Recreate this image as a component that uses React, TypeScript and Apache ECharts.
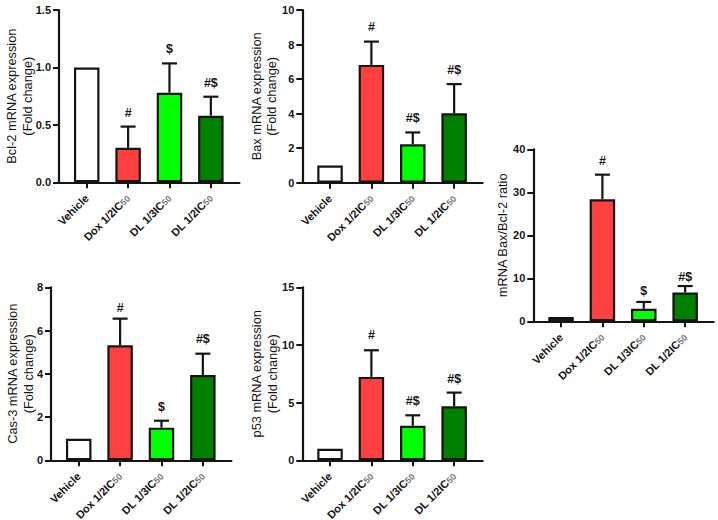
// Fold change bar panels (Bcl-2, Bax, ratio, Cas-3, p53)

import { useEffect, useRef } from 'react';
import * as echarts from 'echarts';

const categories = ['Vehicle', 'Dox 1/2IC{sub|50}', 'DL 1/3IC{sub|50}', 'DL 1/2IC{sub|50}'];
const barColors = ['#ffffff', '#ff4040', '#00ff00', '#008000'];

const bcl2Means = [1, 0.3, 0.78, 0.58];
const bcl2Upper = [1, 0.485, 1.035, 0.745];
const bcl2Marks = ['', '#', '$', '#$'];

const baxMeans = [1, 6.82, 2.22, 4.02];
const baxUpper = [1, 8.17, 2.91, 5.71];
const baxMarks = ['', '#', '#$', '#$'];

const ratioMeans = [1, 28.4, 2.9, 6.7];
const ratioUpper = [1, 34.1, 4.5, 8.2];
const ratioMarks = ['', '#', '$', '#$'];

const cas3Means = [1, 5.32, 1.51, 3.94];
const cas3Upper = [1, 6.55, 1.83, 4.93];
const cas3Marks = ['', '#', '$', '#$'];

const p53Means = [1, 7.23, 3.0, 4.68];
const p53Upper = [1, 9.54, 3.9, 5.87];
const p53Marks = ['', '#', '#$', '#$'];

const INK = '#141414';
const FONT = '"Liberation Sans", Arial, sans-serif';

const panels = [
    { name: 'Bcl-2 mRNA expression\n(Fold change)', nameGap: 24, left: 59, top: 10, height: 172.3, max: 1.5, interval: 0.5, digits: 1, means: bcl2Means, upper: bcl2Upper, marks: bcl2Marks, gaps: [14, 14, 14, 14] },
    { name: 'Bax mRNA expression\n(Fold change)', nameGap: 23, left: 302.3, top: 10, height: 172.7, max: 10, interval: 2, digits: 0, means: baxMeans, upper: baxUpper, marks: baxMarks, gaps: [14, 15, 14, 14] },
    { name: 'mRNA Bax/Bcl-2 ratio', nameGap: 23, left: 533.3, top: 149.3, height: 172, max: 40, interval: 10, digits: 0, means: ratioMeans, upper: ratioUpper, marks: ratioMarks, gaps: [14, 14, 11, 9] },
    { name: 'Cas-3 mRNA expression\n(Fold change)', nameGap: 15, left: 51, top: 287.3, height: 173, max: 8, interval: 2, digits: 0, means: cas3Means, upper: cas3Upper, marks: cas3Marks, gaps: [14, 11, 14, 15] },
    { name: 'p53 mRNA expression\n(Fold change)', nameGap: 22.5, left: 302.3, top: 287.3, height: 173, max: 15, interval: 5, digits: 0, means: p53Means, upper: p53Upper, marks: p53Marks, gaps: [14, 15, 14, 14] },
];

export default function App() {
    const chartRef = useRef<HTMLDivElement>(null);

    useEffect(() => {
        if (!chartRef.current) return;
        document.body.style.margin = '0';

        const chart = echarts.init(chartRef.current, null, { renderer: 'svg' });

        const option: any = {
            animation: false,
            backgroundColor: '#ffffff',
            // outerBoundsMode none: labels near the page edge must not shrink the grids
            grid: panels.map((p) => ({ left: p.left, top: p.top, width: 180.4, height: p.height, outerBoundsMode: 'none' })),
            xAxis: panels.map((_, i) => ({
                type: 'value',
                gridIndex: i,
                min: -0.67,
                max: 3.69,
                splitLine: { show: false },
                axisLine: { lineStyle: { color: INK, width: 2.2 } },
                axisTick: { length: 6, lineStyle: { color: INK, width: 2 }, customValues: [0, 1, 2, 3] },
                axisLabel: {
                    customValues: [0, 1, 2, 3],
                    rotate: 45,
                    margin: 14,
                    fontFamily: FONT,
                    fontSize: 11,
                    fontWeight: 'bold',
                    color: INK,
                    formatter: (v: number) => categories[v],
                    rich: { sub: { fontFamily: FONT, fontSize: 9, color: '#777777', verticalAlign: 'bottom' } },
                },
            })),
            yAxis: panels.map((p, i) => ({
                type: 'value',
                gridIndex: i,
                min: 0,
                max: p.max,
                interval: p.interval,
                name: p.name,
                nameLocation: 'middle',
                nameGap: p.nameGap,
                nameMoveOverlap: false,
                nameTextStyle: { fontFamily: FONT, fontSize: 12.8, color: INK, lineHeight: 15.5 },
                splitLine: { show: false },
                axisLine: { show: true, onZero: false, lineStyle: { color: INK, width: 2.2 } },
                axisTick: { show: true, length: 6, lineStyle: { color: INK, width: 2 } },
                axisLabel: {
                    margin: 8,
                    fontFamily: FONT,
                    fontSize: 11,
                    fontWeight: 'bold',
                    color: INK,
                    formatter: (v: number) => v.toFixed(p.digits),
                },
            })),
            series: panels.flatMap((p, i) => [
                {
                    type: 'custom',
                    xAxisIndex: i,
                    yAxisIndex: i,
                    clip: false,
                    z: 1,
                    data: p.means.map((m, j) => [j, m, p.upper[j]]),
                    renderItem: (params: any, api: any) => {
                        const j = api.value(0);
                        const base = api.coord([j, api.value(1)]);
                        const end = api.coord([j, api.value(2)]);
                        const children: any[] = [];
                        if (api.value(2) > api.value(1)) {
                            const style = { stroke: INK, lineWidth: 2.2, fill: 'none' };
                            children.push(
                                { type: 'line', shape: { x1: base[0], y1: base[1], x2: end[0], y2: end[1] }, style },
                                { type: 'line', shape: { x1: end[0] - 7.5, y1: end[1], x2: end[0] + 7.5, y2: end[1] }, style },
                            );
                        }
                        if (p.marks[j]) {
                            children.push({
                                type: 'text',
                                x: end[0],
                                y: end[1] - p.gaps[j],
                                style: {
                                    text: p.marks[j],
                                    fill: INK,
                                    font: `bold 12.5px ${FONT}`,
                                    textAlign: 'center',
                                    textVerticalAlign: 'middle',
                                },
                            });
                        }
                        return { type: 'group', children };
                    },
                },
                {
                    type: 'bar',
                    xAxisIndex: i,
                    yAxisIndex: i,
                    barWidth: 25.5,
                    z: 2,
                    data: p.means.map((m, j) => ({
                        value: [j, m],
                        itemStyle: { color: barColors[j], borderColor: INK, borderWidth: 2.2 },
                    })),
                },
            ]),
        };

        chart.setOption(option, { notMerge: true });

        return () => {
            chart.dispose();
        };
    }, []);

    return <div ref={chartRef} style={{ width: '718px', height: '520px' }} />;
}
